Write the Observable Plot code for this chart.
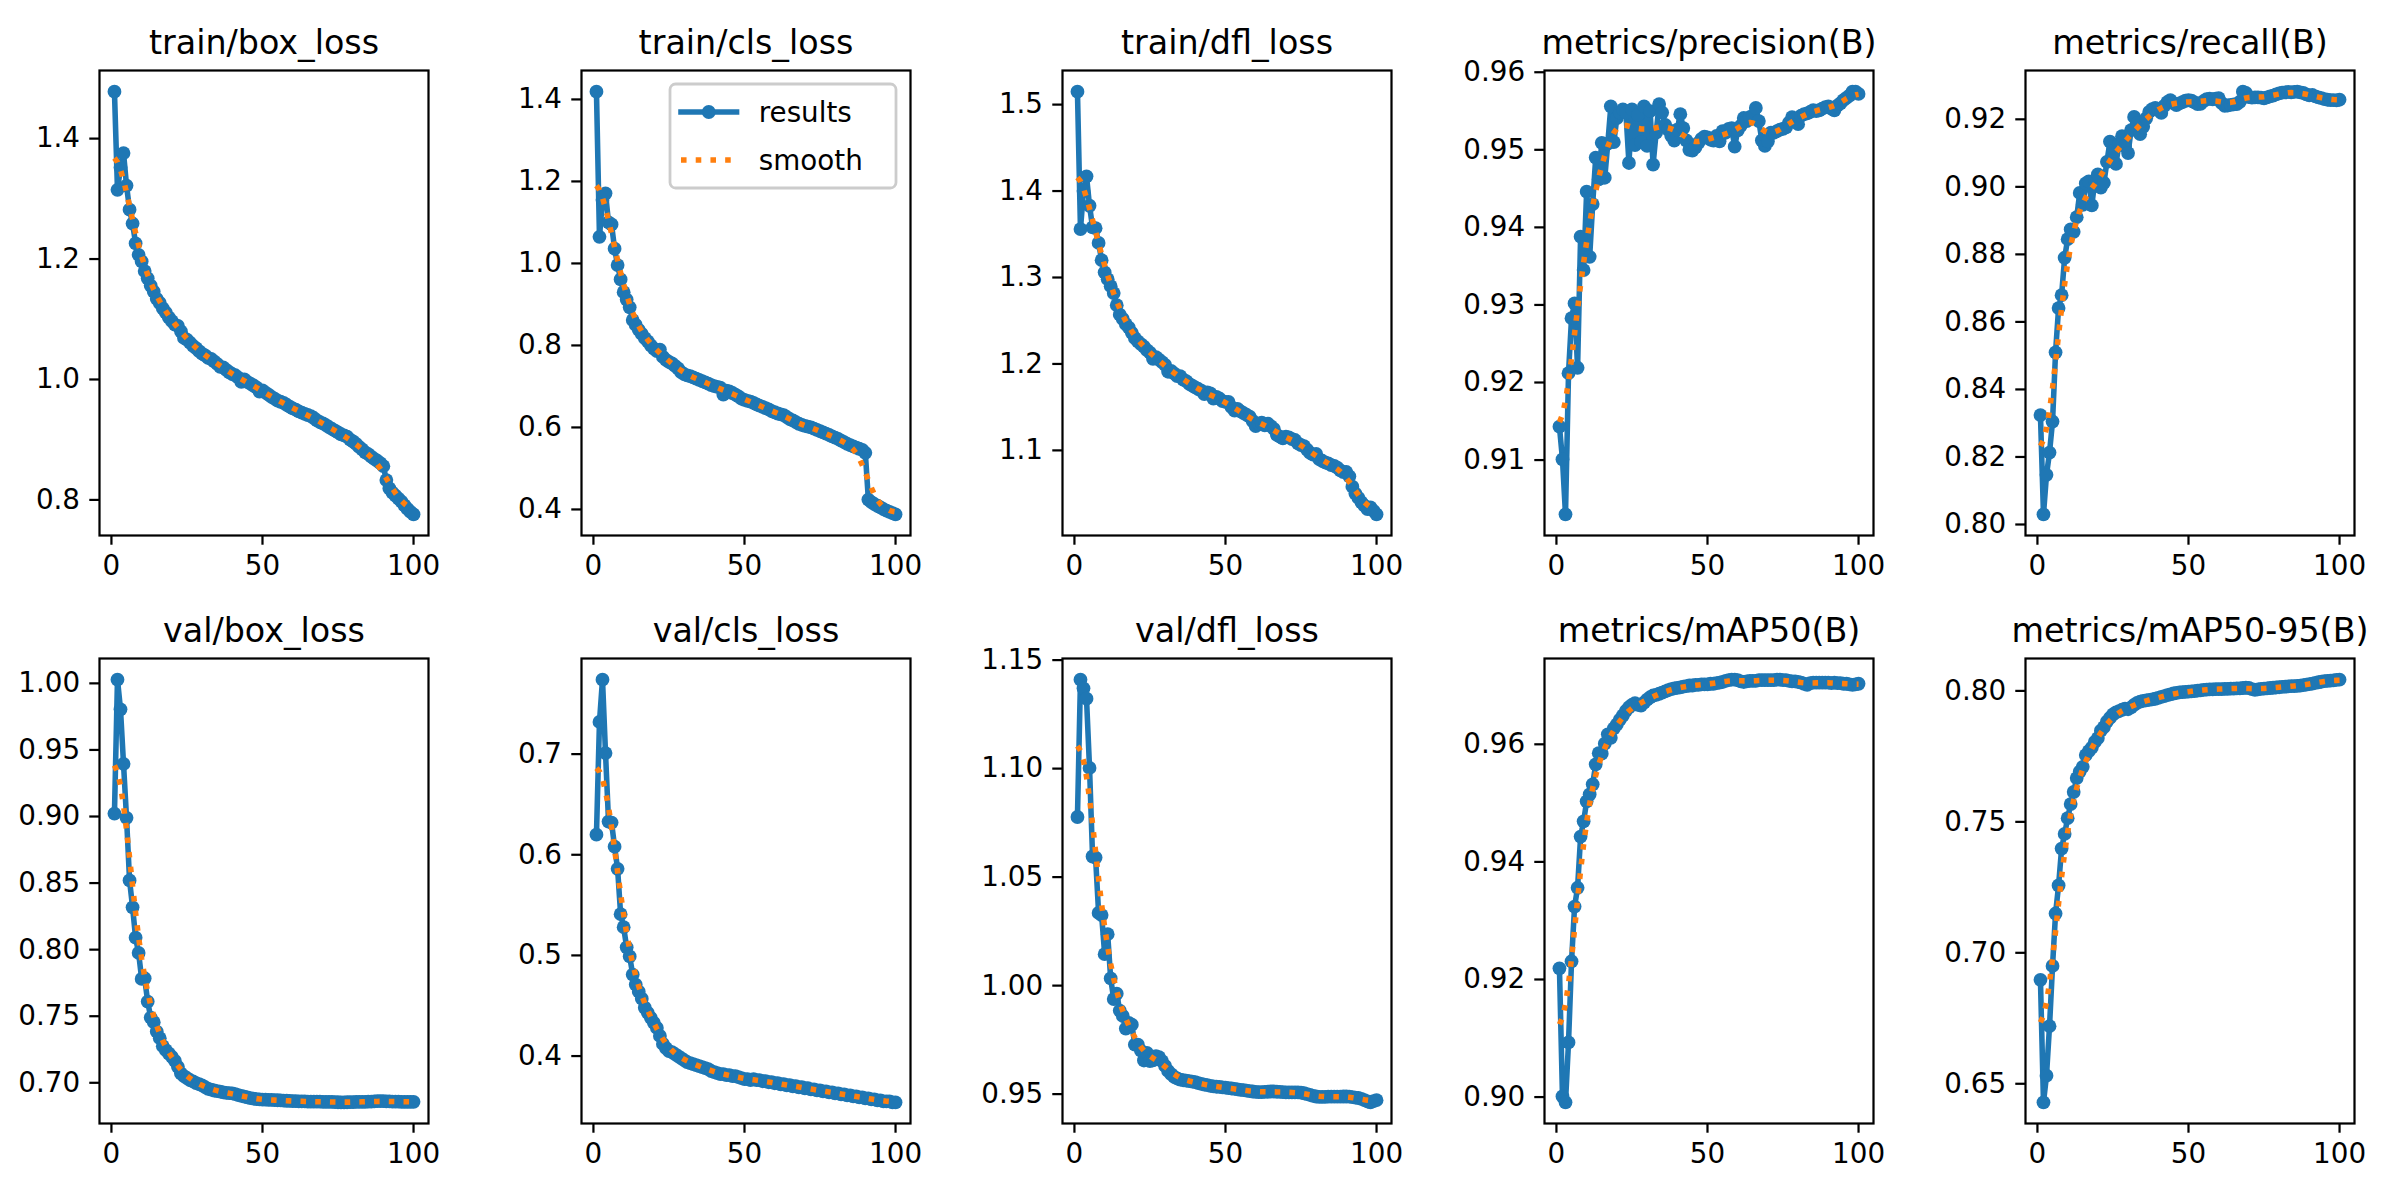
<!DOCTYPE html>
<html>
<head>
<meta charset="utf-8">
<script src="https://cdn.jsdelivr.net/npm/d3@7"></script>
<script src="https://cdn.jsdelivr.net/npm/@observablehq/plot@0.6"></script>
<style>
  html, body { margin: 0; padding: 0; background: #ffffff; }
  #fig { position: relative; width: 2400px; height: 1200px; overflow: hidden; background: #ffffff; font-family: "DejaVu Sans", sans-serif; }
  #fig > svg, #fig > div { position: absolute; }
</style>
</head>
<body>
<div id="fig"></div>
<script>
// ---------- chart values (epoch = position in array, 1..100) ----------
const titles = ["train/box_loss", "train/cls_loss", "train/dfl_loss", "metrics/precision(B)", "metrics/recall(B)",
                "val/box_loss", "val/cls_loss", "val/dfl_loss", "metrics/mAP50(B)", "metrics/mAP50-95(B)"];

const trainBoxLoss = [1.478,1.315,1.352,1.376,1.322,1.282,1.259,1.226,1.207,1.196,
1.180,1.168,1.156,1.146,1.134,1.127,1.118,1.111,1.103,1.097,
1.091,1.089,1.080,1.069,1.066,1.061,1.056,1.052,1.047,1.043,
1.040,1.036,1.034,1.030,1.026,1.021,1.020,1.016,1.012,1.009,
1.007,1.003,0.996,1.000,0.996,0.993,0.990,0.987,0.980,0.982,
0.978,0.975,0.971,0.968,0.965,0.963,0.961,0.958,0.955,0.952,
0.950,0.947,0.945,0.943,0.941,0.939,0.936,0.932,0.929,0.927,
0.924,0.921,0.918,0.915,0.912,0.909,0.907,0.905,0.900,0.897,
0.893,0.888,0.884,0.879,0.876,0.872,0.868,0.865,0.861,0.856,
0.833,0.819,0.812,0.807,0.802,0.797,0.791,0.785,0.780,0.776];

const trainClsLoss = [1.419,1.065,1.155,1.171,1.100,1.095,1.036,0.996,0.961,0.930,
0.912,0.893,0.862,0.850,0.838,0.828,0.818,0.810,0.800,0.792,
0.786,0.790,0.772,0.765,0.760,0.756,0.750,0.744,0.735,0.730,
0.727,0.725,0.722,0.719,0.716,0.713,0.710,0.707,0.703,0.701,
0.699,0.697,0.680,0.690,0.688,0.684,0.680,0.676,0.670,0.667,
0.665,0.663,0.660,0.656,0.653,0.650,0.647,0.644,0.640,0.637,
0.634,0.632,0.630,0.625,0.620,0.617,0.613,0.609,0.606,0.604,
0.602,0.600,0.597,0.594,0.591,0.588,0.585,0.582,0.578,0.575,
0.572,0.568,0.564,0.560,0.557,0.554,0.551,0.548,0.545,0.538,
0.424,0.418,0.413,0.409,0.405,0.401,0.397,0.394,0.391,0.388];

const trainDflLoss = [1.515,1.356,1.400,1.417,1.383,1.358,1.357,1.340,1.320,1.306,
1.298,1.290,1.282,1.268,1.257,1.252,1.246,1.242,1.236,1.230,
1.226,1.223,1.220,1.216,1.213,1.206,1.208,1.205,1.202,1.199,
1.191,1.192,1.189,1.186,1.186,1.182,1.180,1.177,1.175,1.173,
1.171,1.169,1.165,1.167,1.166,1.160,1.162,1.160,1.157,1.156,
1.156,1.150,1.146,1.148,1.145,1.143,1.141,1.139,1.134,1.128,
1.131,1.132,1.129,1.131,1.128,1.125,1.118,1.116,1.114,1.116,
1.115,1.113,1.112,1.108,1.106,1.105,1.101,1.097,1.095,1.096,
1.090,1.088,1.086,1.085,1.083,1.082,1.080,1.077,1.075,1.075,
1.070,1.058,1.050,1.045,1.040,1.036,1.032,1.034,1.030,1.026];

const precision = [0.9143,0.9101,0.9030,0.9212,0.9283,0.9302,0.9219,0.9388,0.9345,0.9446,
0.9362,0.9430,0.9490,0.9462,0.9509,0.9464,0.9508,0.9556,0.9510,0.9541,
0.9548,0.9552,0.9548,0.9483,0.9552,0.9506,0.9545,0.9510,0.9556,0.9505,
0.9550,0.9481,0.9522,0.9559,0.9548,0.9532,0.9526,0.9518,0.9512,0.9526,
0.9546,0.9528,0.9512,0.9500,0.9499,0.9503,0.9509,0.9514,0.9517,0.9516,
0.9513,0.9512,0.9518,0.9511,0.9524,0.9522,0.9527,0.9528,0.9504,0.9525,
0.9531,0.9541,0.9537,0.9542,0.9544,0.9554,0.9537,0.9512,0.9505,0.9511,
0.9522,0.9522,0.9524,0.9526,0.9527,0.9529,0.9535,0.9542,0.9540,0.9533,
0.9544,0.9546,0.9547,0.9549,0.9551,0.9550,0.9551,0.9553,0.9555,0.9556,
0.9553,0.9551,0.9557,0.9560,0.9564,0.9567,0.9570,0.9575,0.9575,0.9572];

const recall = [0.8324,0.8030,0.8147,0.8213,0.8305,0.8510,0.8641,0.8679,0.8790,0.8845,
0.8874,0.8867,0.8910,0.8982,0.8947,0.9010,0.9016,0.8945,0.9018,0.9037,
0.8998,0.9012,0.9074,0.9134,0.9105,0.9068,0.9128,0.9150,0.9120,0.9100,
0.9168,0.9207,0.9188,0.9156,0.9178,0.9203,0.9222,0.9230,0.9234,0.9228,
0.9219,0.9240,0.9251,0.9257,0.9248,0.9242,0.9247,0.9251,0.9255,0.9257,
0.9255,0.9250,0.9245,0.9246,0.9254,0.9260,0.9261,0.9259,0.9261,0.9263,
0.9248,0.9240,0.9241,0.9243,0.9244,0.9245,0.9252,0.9282,0.9278,0.9266,
0.9264,0.9265,0.9265,0.9264,0.9262,0.9265,0.9268,0.9270,0.9274,0.9277,
0.9279,0.9280,0.9281,0.9280,0.9281,0.9282,0.9280,0.9278,0.9274,0.9271,
0.9272,0.9268,0.9265,0.9263,0.9260,0.9258,0.9257,0.9257,0.9256,0.9258];

const valBoxLoss = [0.9022,1.0028,0.9805,0.9395,0.8990,0.8520,0.8318,0.8090,0.7975,0.7780,
0.7785,0.7610,0.7490,0.7455,0.7385,0.7335,0.7275,0.7245,0.7220,0.7195,
0.7165,0.7120,0.7070,0.7050,0.7035,0.7020,0.7010,0.6998,0.6990,0.6980,
0.6968,0.6955,0.6948,0.6942,0.6938,0.6933,0.6928,0.6925,0.6922,0.6920,
0.6915,0.6908,0.6902,0.6896,0.6890,0.6885,0.6881,0.6878,0.6876,0.6874,
0.6873,0.6872,0.6871,0.6870,0.6869,0.6868,0.6866,0.6865,0.6864,0.6863,
0.6862,0.6861,0.6860,0.6860,0.6859,0.6859,0.6858,0.6858,0.6858,0.6857,
0.6857,0.6856,0.6856,0.6855,0.6854,0.6853,0.6853,0.6854,0.6855,0.6855,
0.6856,0.6856,0.6857,0.6857,0.6858,0.6859,0.6860,0.6862,0.6863,0.6862,
0.6861,0.6860,0.6859,0.6858,0.6858,0.6857,0.6857,0.6857,0.6857,0.6857];

const valClsLoss = [0.620,0.732,0.774,0.701,0.633,0.632,0.608,0.586,0.541,0.528,
0.508,0.499,0.481,0.471,0.464,0.457,0.448,0.443,0.438,0.433,
0.428,0.420,0.412,0.408,0.405,0.404,0.402,0.400,0.398,0.396,
0.394,0.393,0.392,0.391,0.390,0.389,0.388,0.387,0.385,0.384,
0.383,0.382,0.382,0.381,0.381,0.380,0.380,0.379,0.378,0.377,
0.377,0.376,0.377,0.376,0.376,0.375,0.375,0.374,0.374,0.373,
0.373,0.372,0.372,0.371,0.371,0.370,0.370,0.369,0.369,0.368,
0.368,0.367,0.367,0.366,0.366,0.365,0.365,0.364,0.364,0.363,
0.363,0.362,0.362,0.361,0.361,0.360,0.360,0.359,0.359,0.358,
0.358,0.357,0.357,0.356,0.356,0.355,0.355,0.355,0.354,0.354];

const valDflLoss = [1.0777,1.1410,1.1370,1.1322,1.1003,1.0595,1.0590,1.0335,1.0325,1.0145,
1.0237,1.0033,0.9938,0.9963,0.9885,0.9860,0.9802,0.9828,0.9820,0.9728,
0.9728,0.9700,0.9655,0.9690,0.9652,0.9656,0.9675,0.9670,0.9652,0.9630,
0.9607,0.9592,0.9580,0.9572,0.9567,0.9564,0.9562,0.9560,0.9558,0.9555,
0.9551,0.9547,0.9544,0.9541,0.9538,0.9536,0.9534,0.9533,0.9531,0.9530,
0.9528,0.9526,0.9524,0.9522,0.9520,0.9518,0.9516,0.9514,0.9512,0.9510,
0.9509,0.9509,0.9510,0.9511,0.9512,0.9512,0.9511,0.9510,0.9509,0.9508,
0.9508,0.9508,0.9508,0.9508,0.9507,0.9504,0.9500,0.9496,0.9492,0.9489,
0.9487,0.9487,0.9487,0.9488,0.9488,0.9488,0.9488,0.9488,0.9489,0.9489,
0.9488,0.9486,0.9484,0.9482,0.9478,0.9472,0.9466,0.9462,0.9468,0.9472];

const mAP50 = [0.9219,0.9001,0.8991,0.9093,0.9231,0.9324,0.9356,0.9443,0.9469,0.9503,
0.9515,0.9532,0.9566,0.9585,0.9584,0.9601,0.9617,0.9611,0.9627,0.9634,
0.9642,0.9649,0.9657,0.9663,0.9667,0.9670,0.9667,0.9666,0.9671,0.9676,
0.9680,0.9683,0.9684,0.9686,0.9688,0.9690,0.9692,0.9694,0.9695,0.9696,
0.9697,0.9698,0.9699,0.9700,0.9700,0.9701,0.9701,0.9702,0.9702,0.9702,
0.9703,0.9703,0.9704,0.9705,0.9706,0.9708,0.9709,0.9710,0.9710,0.9709,
0.9707,0.9706,0.9707,0.9708,0.9708,0.9708,0.9709,0.9709,0.9709,0.9709,
0.9709,0.9709,0.9710,0.9710,0.9709,0.9709,0.9708,0.9707,0.9707,0.9706,
0.9705,0.9703,0.9701,0.9704,0.9705,0.9705,0.9705,0.9705,0.9705,0.9705,
0.9704,0.9705,0.9704,0.9704,0.9703,0.9703,0.9702,0.9701,0.9702,0.9703];

const mAP5095 = [0.6897,0.6429,0.6531,0.6720,0.6950,0.7150,0.7257,0.7398,0.7454,0.7514,
0.7568,0.7614,0.7667,0.7692,0.7710,0.7755,0.7770,0.7783,0.7805,0.7820,
0.7848,0.7862,0.7883,0.7897,0.7910,0.7918,0.7923,0.7928,0.7932,0.7930,
0.7937,0.7947,0.7954,0.7959,0.7962,0.7964,0.7966,0.7968,0.7970,0.7973,
0.7977,0.7980,0.7984,0.7987,0.7990,0.7992,0.7994,0.7995,0.7996,0.7997,
0.7998,0.7999,0.8001,0.8002,0.8004,0.8005,0.8006,0.8006,0.8007,0.8007,
0.8007,0.8008,0.8008,0.8009,0.8009,0.8010,0.8010,0.8011,0.8012,0.8011,
0.8007,0.8004,0.8006,0.8008,0.8009,0.8010,0.8011,0.8012,0.8013,0.8014,
0.8015,0.8016,0.8017,0.8018,0.8018,0.8019,0.8020,0.8022,0.8024,0.8026,
0.8028,0.8031,0.8033,0.8035,0.8037,0.8038,0.8039,0.8040,0.8042,0.8043];

const xTickValues = [0, 50, 100];
const yTickValues = [
  [0.8, 1.0, 1.2, 1.4],
  [0.4, 0.6, 0.8, 1.0, 1.2, 1.4],
  [1.1, 1.2, 1.3, 1.4, 1.5],
  [0.91, 0.92, 0.93, 0.94, 0.95, 0.96],
  [0.80, 0.82, 0.84, 0.86, 0.88, 0.90, 0.92],
  [0.70, 0.75, 0.80, 0.85, 0.90, 0.95, 1.00],
  [0.4, 0.5, 0.6, 0.7],
  [0.95, 1.00, 1.05, 1.10, 1.15],
  [0.90, 0.92, 0.94, 0.96],
  [0.65, 0.70, 0.75, 0.80]
];
const yTickFormats = [".1f", ".1f", ".1f", ".2f", ".2f", ".2f", ".1f", ".2f", ".2f", ".2f"];
const legendLabels = ["results", "smooth"];

const series = [trainBoxLoss, trainClsLoss, trainDflLoss, precision, recall,
                valBoxLoss, valClsLoss, valDflLoss, mAP50, mAP5095];

// ---------- styling ----------
const BLUE = "#1f77b4", ORANGE = "#ff7f0e";
const PT = 200 / 72;               // pixels per point at 200 dpi
const LW = 2 * PT;                 // line width 2pt
const TICK = 3.5 * PT, TICKW = 0.8 * PT;
const FS = 10 * PT, TFS = 12 * PT;
const AX_W = 329, AX_H = 465;
const AX_LEFT = [99, 580.6, 1062.2, 1543.8, 2025.4];
const AX_TOP = [70, 658];
const ML = 120, MR = 40, MT = 70, MB = 70;

// Gaussian smoothing (sigma = 3, reflect mode) of the read values, as the chart's "smooth" curve
function gaussianSmooth(y, sigma = 3) {
  const radius = Math.floor(4 * sigma + 0.5);
  const w = [];
  let s = 0;
  for (let k = -radius; k <= radius; k++) { const v = Math.exp(-0.5 * k * k / (sigma * sigma)); w.push(v); s += v; }
  const n = y.length;
  const reflect = j => { while (j < 0 || j >= n) { if (j < 0) j = -j - 1; if (j >= n) j = 2 * n - j - 1; } return j; };
  return y.map((_, i) => {
    let acc = 0;
    for (let k = -radius; k <= radius; k++) acc += w[k + radius] * y[reflect(i + k)];
    return acc / s;
  });
}

const fig = document.getElementById("fig");

series.forEach((vals, idx) => {
  const row = Math.floor(idx / 5), col = idx % 5;
  const pts = vals.map((v, i) => ({epoch: i + 1, value: v}));
  const sm = gaussianSmooth(vals).map((v, i) => ({epoch: i + 1, value: v}));
  const xs = pts.map(d => d.epoch);
  const xmin = d3.min(xs), xmax = d3.max(xs), xr = xmax - xmin;
  const ymin = d3.min(vals), ymax = d3.max(vals), yr = ymax - ymin;

  const chart = Plot.plot({
    width: AX_W + ML + MR,
    height: AX_H + MT + MB,
    marginLeft: ML, marginRight: MR, marginTop: MT, marginBottom: MB,
    style: {fontFamily: "'DejaVu Sans', sans-serif", fontSize: FS + "px", color: "#000", background: "transparent", overflow: "visible"},
    x: {domain: [xmin - 0.05 * xr, xmax + 0.05 * xr]},
    y: {domain: [ymin - 0.05 * yr, ymax + 0.05 * yr]},
    marks: [
      Plot.line(pts, {x: "epoch", y: "value", stroke: BLUE, strokeWidth: LW, strokeLinejoin: "round", strokeLinecap: "square"}),
      Plot.dot(pts, {x: "epoch", y: "value", r: 6.9, fill: BLUE, stroke: "none"}),
      Plot.line(sm, {x: "epoch", y: "value", stroke: ORANGE, strokeWidth: LW, strokeDasharray: `${LW},${1.65 * LW}`, strokeLinecap: "butt"}),
      Plot.frame({stroke: "#000", strokeWidth: TICKW}),
      Plot.axisX({ticks: xTickValues, tickFormat: d3.format("d"), tickSize: TICK, tickPadding: TICK, strokeWidth: TICKW, fontSize: FS, label: null}),
      Plot.axisY({ticks: yTickValues[idx], tickFormat: d3.format(yTickFormats[idx]), tickSize: TICK, tickPadding: TICK, strokeWidth: TICKW, fontSize: FS, label: null}),
      Plot.text([titles[idx]], {text: d => d, frameAnchor: "top", dy: -6 * PT, lineAnchor: "bottom", fontSize: TFS, fill: "#000"})
    ]
  });
  chart.style.position = "absolute";
  chart.style.left = (AX_LEFT[col] - ML) + "px";
  chart.style.top = (AX_TOP[row] - MT) + "px";
  fig.appendChild(chart);
});

// ---------- legend (in the train/cls_loss panel, upper right) ----------
const axRight = AX_LEFT[1] + AX_W;
const legW = 226, legH = 104;
const legX = axRight - 0.5 * FS - legW, legY = AX_TOP[0] + 0.5 * FS;
const leg = d3.create("svg")
  .attr("width", legW + 10).attr("height", legH + 10)
  .style("position", "absolute")
  .style("left", (legX - 5) + "px").style("top", (legY - 5) + "px")
  .style("font-family", "'DejaVu Sans', sans-serif");
leg.append("rect").attr("x", 5).attr("y", 5).attr("width", legW).attr("height", legH)
  .attr("rx", 0.2 * FS).attr("fill", "rgba(255,255,255,0.8)").attr("stroke", "#cccccc").attr("stroke-width", PT);
const rowY = [5 + 28, 5 + 76];
const hx0 = 5 + 11, hx1 = 5 + 11 + 2 * FS;
// results handle
leg.append("line").attr("x1", hx0).attr("x2", hx1).attr("y1", rowY[0]).attr("y2", rowY[0])
  .attr("stroke", BLUE).attr("stroke-width", LW).attr("stroke-linecap", "square");
leg.append("circle").attr("cx", (hx0 + hx1) / 2).attr("cy", rowY[0]).attr("r", 6.9).attr("fill", BLUE);
// smooth handle
leg.append("line").attr("x1", hx0).attr("x2", hx1).attr("y1", rowY[1]).attr("y2", rowY[1])
  .attr("stroke", ORANGE).attr("stroke-width", LW).attr("stroke-dasharray", `${LW},${1.65 * LW}`);
legendLabels.forEach((t, i) => {
  leg.append("text").attr("x", hx1 + 0.8 * FS).attr("y", rowY[i]).attr("dy", "0.35em")
    .attr("font-size", FS).attr("fill", "#000").text(t);
});
fig.appendChild(leg.node());
</script>
</body>
</html>
